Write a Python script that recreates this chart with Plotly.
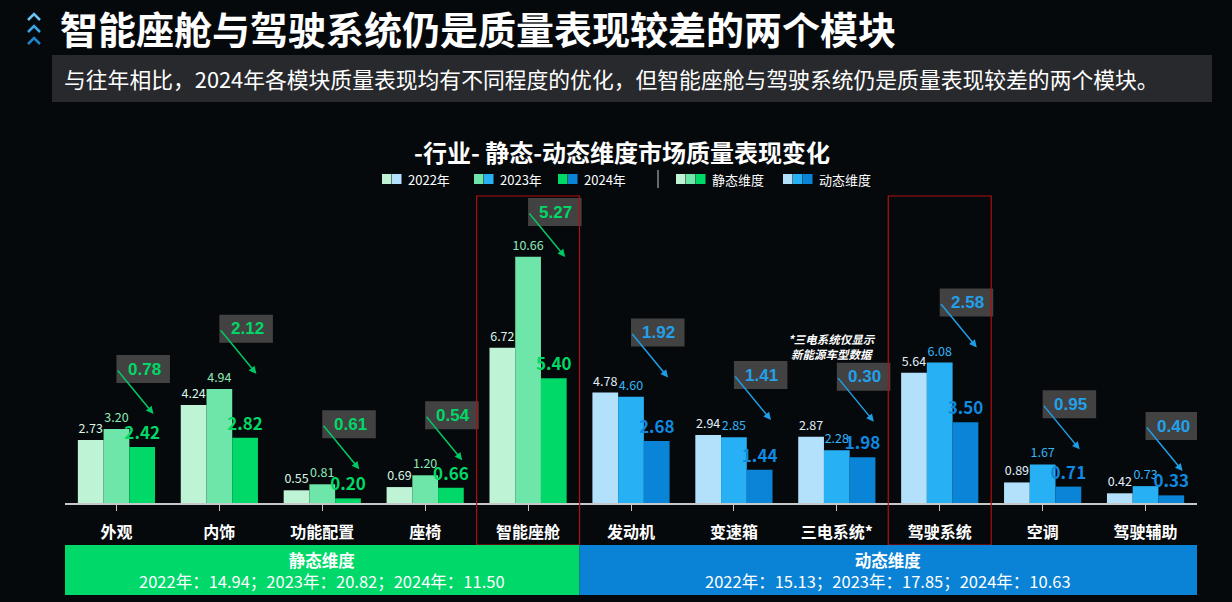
import plotly.graph_objects as go

# module quality scores per year (lower is better)
categories = ["外观", "内饰", "功能配置", "座椅", "智能座舱", "发动机", "变速箱", "三电系统*", "驾驶系统", "空调", "驾驶辅助"]
dimension = ["静态", "静态", "静态", "静态", "静态", "动态", "动态", "动态", "动态", "动态", "动态"]
v2022 = [2.73, 4.24, 0.55, 0.69, 6.72, 4.78, 2.94, 2.87, 5.64, 0.89, 0.42]
v2023 = [3.20, 4.94, 0.81, 1.20, 10.66, 4.60, 2.85, 2.28, 6.08, 1.67, 0.73]
v2024 = [2.42, 2.82, 0.20, 0.66, 5.40, 2.68, 1.44, 1.98, 3.50, 0.71, 0.33]
drops = [0.78, 2.12, 0.61, 0.54, 5.27, 1.92, 1.41, 0.30, 2.58, 0.95, 0.40]
highlighted = ["智能座舱", "驾驶系统"]
years = ["2022年", "2023年", "2024年"]
static_totals = [14.94, 20.82, 11.50]
dynamic_totals = [15.13, 17.85, 10.63]

FONT = "Noto Sans CJK SC"
W, H = 1232, 602
L, R, T, B = 65, 35, 150, 99
PW, PH = W - L - R, H - T - B
PX_PER_UNIT = 23.1

green = ["#bff3d5", "#6fe6a9", "#00d867"]
blue = ["#b3e1fb", "#27b1f4", "#0a84d6"]
green_txt = ["#d9f6e5", "#8ee9b9", "#00d867"]
blue_txt = ["#e3eff8", "#33b5f5", "#1089e0"]


def px_x(x):
    return (x - L) / PW


def px_y(y):
    return (H - B - y) / PH


def note(x, y, text, size, color="white", xanchor="center", family=FONT, **kw):
    # pixel-positioned text, anchors set explicitly
    return dict(xref="paper", yref="paper", x=px_x(x), y=px_y(y), text=text,
                xanchor=xanchor, yanchor="middle", showarrow=False,
                font=dict(family=family, size=size, color=color), **kw)


fig = go.Figure()
for k, (yr, vals) in enumerate(zip(years, [v2022, v2023, v2024])):
    fig.add_trace(go.Bar(
        x=list(range(len(categories))), y=vals, name=yr,
        marker=dict(color=[green[k] if d == "静态" else blue[k] for d in dimension], line=dict(width=0)),
        text=[f"{v:.2f}" for v in vals], textposition="outside",
        constraintext="none", cliponaxis=False,
        textfont=dict(family=FONT, size=17 if k == 2 else 12.5,
                      color=[green_txt[k] if d == "静态" else blue_txt[k] for d in dimension],
                      weight="bold" if k == 2 else "normal"),
        showlegend=False, hoverinfo="skip",
    ))

shapes = []
annotations = []

# drop boxes with arrows, kept below the legend row
c_max = (H - B - 212) / PX_PER_UNIT
for i, d in enumerate(drops):
    top = max(v2022[i], v2023[i], v2024[i])
    c = min(top + 2.6, c_max)
    is_static = dimension[i] == "静态"
    tc = "#00d867" if is_static else "#22a0ea"
    ac = "#00c864" if is_static else "#1e9ee6"
    shapes.append(dict(type="rect", xref="x", yref="y", x0=i, x1=i + 0.52,
                       y0=c - 14 / PX_PER_UNIT, y1=c + 14 / PX_PER_UNIT,
                       fillcolor="rgba(72,72,72,0.92)", line=dict(width=0), layer="above"))
    annotations.append(dict(xref="x", yref="y", x=i + 0.27, y=c, text=f"<b>{d:.2f}</b>",
                            xanchor="center", yanchor="middle", showarrow=False,
                            font=dict(family="Liberation Sans", size=17, color=tc)))
    annotations.append(dict(xref="x", yref="y", x=i + 0.36, y=c - 45 / PX_PER_UNIT, text="",
                            showarrow=True, ax=-37, ay=-45, arrowhead=2, arrowsize=1,
                            arrowwidth=1.5, arrowcolor=ac))

# highlighted columns
for name in highlighted:
    i = categories.index(name)
    shapes.append(dict(type="rect", xref="x", yref="paper", x0=i - 0.5, x1=i + 0.5,
                       y0=px_y(545), y1=px_y(196), line=dict(color="#b01010", width=1.2),
                       fillcolor="rgba(0,0,0,0)", layer="above"))

# dimension bands under the axis
n_static = dimension.count("静态")
bands = [("静态维度", -0.5, n_static - 0.5, "#00d86a", static_totals),
         ("动态维度", n_static - 0.5, len(categories) - 0.5, "#0a82d6", dynamic_totals)]
for label, x0, x1, col, tot in bands:
    shapes.append(dict(type="rect", xref="x", yref="paper", x0=x0, x1=x1,
                       y0=px_y(595), y1=px_y(545), fillcolor=col, line=dict(width=0)))
    line2 = "；".join(f"{y}：{v:.2f}" for y, v in zip(years, tot))
    annotations.append(dict(xref="x", yref="paper", x=(x0 + x1) / 2, y=px_y(570),
                            xanchor="center", yanchor="middle", showarrow=False,
                            text=f"<b>{label}</b><br>{line2}",
                            font=dict(family=FONT, size=16.5, color="white")))

# header: chevrons, title, subtitle bar
for k, cy in enumerate([16, 28, 40]):
    shapes.append(dict(type="path", xref="paper", yref="paper",
                       path=f"M {px_x(28)} {px_y(cy + 4)} L {px_x(34)} {px_y(cy - 2)} L {px_x(40)} {px_y(cy + 4)}",
                       line=dict(color=["#6cc4f0", "#3aa6e6", "#1c86cc"][k], width=2.5)))
annotations.append(note(58, 28, "<b>智能座舱与驾驶系统仍是质量表现较差的两个模块</b>", 38, xanchor="left"))
shapes.append(dict(type="rect", xref="paper", yref="paper", x0=px_x(52), x1=px_x(1212),
                   y0=px_y(102), y1=px_y(55), fillcolor="#27292c", line=dict(width=0)))
annotations.append(note(62, 79, "与往年相比，2024年各模块质量表现均有不同程度的优化，但智能座舱与驾驶系统仍是质量表现较差的两个模块。",
                        21.8, xanchor="left"))
annotations.append(note(622, 151, "<b>-行业- 静态-动态维度市场质量表现变化</b>", 24))

# custom legend
legend_items = [
    (382, [green[0], blue[0]], years[0]),
    (474, [green[1], blue[1]], years[1]),
    (558, [green[2], blue[2]], years[2]),
    (676, green, "静态维度"),
    (783, blue, "动态维度"),
]
for x, cols, label in legend_items:
    for j, c in enumerate(cols):
        shapes.append(dict(type="rect", xref="paper", yref="paper",
                           x0=px_x(x + j * 10), x1=px_x(x + j * 10 + 9.5),
                           y0=px_y(184), y1=px_y(174), fillcolor=c, line=dict(width=0)))
    annotations.append(note(x + len(cols) * 10 + 4, 179, label, 13, xanchor="left"))
shapes.append(dict(type="line", xref="paper", yref="paper", x0=px_x(658), x1=px_x(658),
                   y0=px_y(188), y1=px_y(170), line=dict(color="#888888", width=1.5)))

annotations.append(note(832, 346, "<b><i>*三电系统仅显示<br>新能源车型数据</i></b>", 11.5))

fig.update_layout(
    width=W, height=H,
    margin=dict(l=L, r=R, t=T, b=B),
    paper_bgcolor="#06090c", plot_bgcolor="#06090c",
    barmode="group", bargap=0.25, bargroupgap=0,
    shapes=shapes, annotations=annotations,
    xaxis=dict(tickmode="array", tickvals=list(range(len(categories))), ticktext=categories,
               range=[-0.5, len(categories) - 0.5], showgrid=False, zeroline=False,
               showline=True, linecolor="#c8c8c8", linewidth=1.5,
               ticks="outside", ticklen=6, tickcolor="#c8c8c8", ticklabelstandoff=8,
               tickfont=dict(family=FONT, size=16, color="white", weight="bold")),
    yaxis=dict(range=[0, PH / PX_PER_UNIT], visible=False),
)

fig.write_html("out.html", config={"displayModeBar": False},
               post_script="document.body.style.margin='0';")
